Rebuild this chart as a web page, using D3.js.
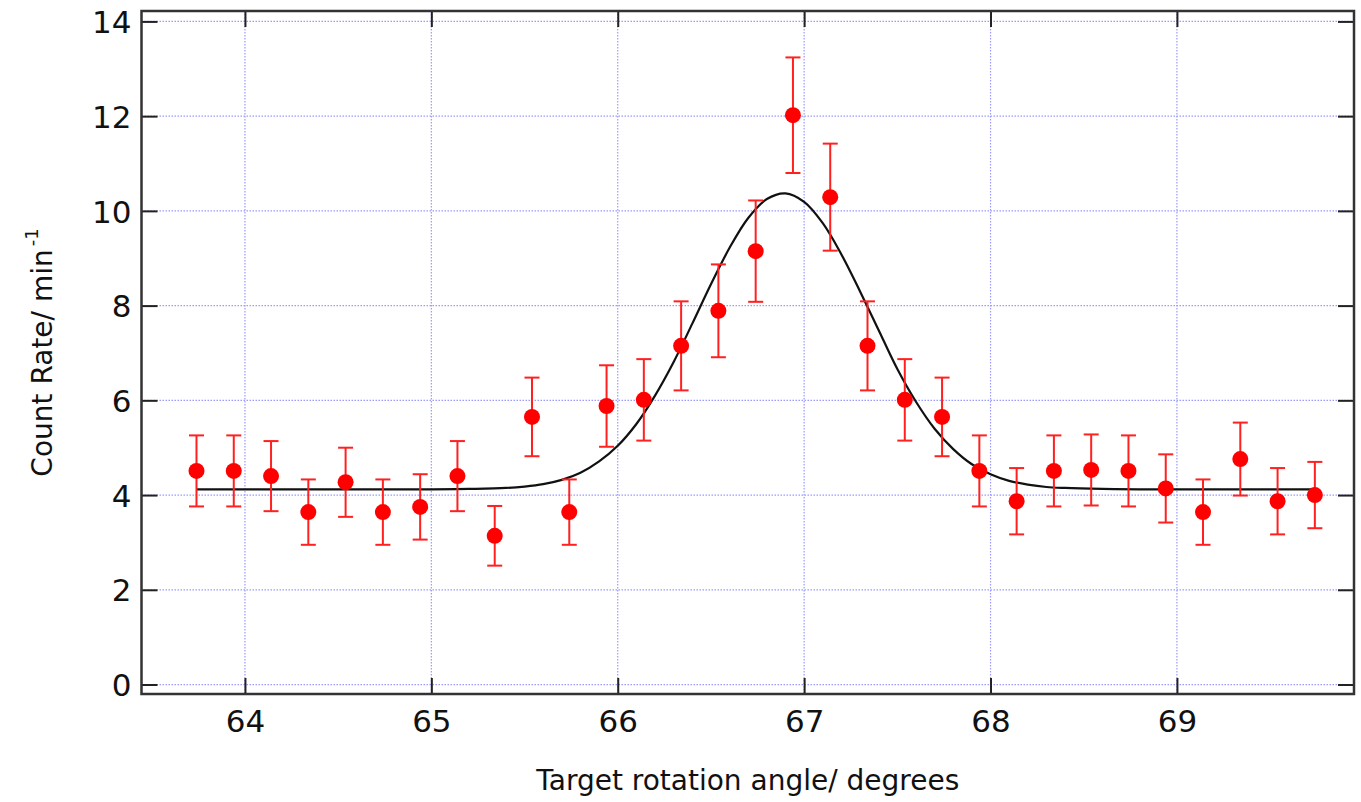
<!DOCTYPE html>
<html>
<head>
<meta charset="utf-8">
<script src="https://cdn.jsdelivr.net/npm/d3@7"></script>
<style>
  body { margin: 0; background: #fff; }
  text { font-family: "DejaVu Sans", Verdana, sans-serif; fill: #111; }
</style>
</head>
<body>
<script>
// measured points (angle in degrees, count rate per minute, error)
var angles = [63.74, 63.94, 64.14, 64.34, 64.54, 64.74, 64.94, 65.14, 65.34, 65.54,
              65.74, 65.94, 66.14, 66.34, 66.54, 66.74, 66.94, 67.14, 67.34, 67.54,
              67.74, 67.94, 68.14, 68.34, 68.54, 68.74, 68.94, 69.14, 69.34, 69.54, 69.74];
var rates = [4.51, 4.51, 4.40, 3.64, 4.27, 3.64, 3.75, 4.40, 3.14, 5.65,
             3.64, 5.88, 6.01, 7.15, 7.89, 9.15, 12.02, 10.29, 7.15, 6.01,
             5.65, 4.51, 3.87, 4.51, 4.53, 4.51, 4.14, 3.64, 4.76, 3.87, 4.00];
var errors = [0.75, 0.75, 0.74, 0.69, 0.73, 0.69, 0.69, 0.74, 0.63, 0.83,
              0.69, 0.86, 0.86, 0.94, 0.98, 1.07, 1.22, 1.13, 0.94, 0.86,
              0.83, 0.75, 0.70, 0.75, 0.75, 0.75, 0.72, 0.69, 0.77, 0.70, 0.70];

// fitted curve
var fitX = [63.74, 64.5, 65.0, 65.2, 65.4, 65.5, 65.6, 65.7, 65.8, 65.9, 66.0,
            66.1, 66.2, 66.3, 66.4, 66.5, 66.6, 66.7, 66.8, 66.9, 67.0,
            67.1, 67.2, 67.3, 67.4, 67.5, 67.6, 67.7, 67.8, 67.9, 68.0,
            68.1, 68.2, 68.3, 68.4, 68.6, 68.8, 69.2, 69.74];
var fitY = [4.12, 4.12, 4.12, 4.13, 4.15, 4.18, 4.23, 4.32, 4.47, 4.71, 5.04,
            5.50, 6.10, 6.81, 7.62, 8.45, 9.22, 9.85, 10.25, 10.37, 10.19,
            9.74, 9.08, 8.30, 7.48, 6.66, 5.97, 5.40, 4.97, 4.65, 4.44,
            4.30, 4.22, 4.17, 4.15, 4.13, 4.12, 4.12, 4.12];

var xTicks = [64, 65, 66, 67, 68, 69];
var yTicks = [0, 2, 4, 6, 8, 10, 12, 14];

var W = 1361, H = 802;
var pLeft = 141.5, pRight = 1354, pTop = 11, pBottom = 694;

var svg = d3.select("body").append("svg")
    .attr("width", W)
    .attr("height", H);

var x = d3.scaleLinear().domain([63.445, 69.95]).range([pLeft, pRight]);
var y = d3.scaleLinear().domain([-0.2, 14.22]).range([pBottom, pTop]);

// grid
var grid = svg.append("g")
    .attr("stroke", "#9a9aff")
    .attr("stroke-width", 1.2)
    .attr("stroke-dasharray", "1.5,1.5");
grid.selectAll(".gx").data(xTicks).enter().append("line")
    .attr("x1", function(d) { return x(d); })
    .attr("x2", function(d) { return x(d); })
    .attr("y1", pTop).attr("y2", pBottom);
grid.selectAll(".gy").data(yTicks).enter().append("line")
    .attr("y1", function(d) { return y(d); })
    .attr("y2", function(d) { return y(d); })
    .attr("x1", pLeft).attr("x2", pRight);

// axes with inward ticks on all sides
var tickLen = 16;
var fmt = d3.format("d");
var xAxis = d3.axisBottom(x).tickValues(xTicks).tickFormat(fmt).tickSizeInner(-tickLen).tickSizeOuter(0).tickPadding(15);
var yAxis = d3.axisLeft(y).tickValues(yTicks).tickFormat(fmt).tickSizeInner(-tickLen).tickSizeOuter(0).tickPadding(10);
var xAxisTop = d3.axisTop(x).tickValues(xTicks).tickSizeInner(-tickLen).tickSizeOuter(0).tickFormat("");
var yAxisRight = d3.axisRight(y).tickValues(yTicks).tickSizeInner(-tickLen).tickSizeOuter(0).tickFormat("");

function styleAxis(g) {
  g.select(".domain").remove();
  g.selectAll(".tick line").attr("stroke", "#222").attr("stroke-width", 2);
  g.selectAll(".tick text")
    .attr("font-size", 31)
    .attr("font-family", "DejaVu Sans, Verdana, sans-serif")
    .attr("fill", "#111");
}

svg.append("g").attr("class", "x-axis").attr("transform", "translate(0," + pBottom + ")").call(xAxis).call(styleAxis);
svg.append("g").attr("class", "y-axis").attr("transform", "translate(" + pLeft + ",0)").call(yAxis).call(styleAxis);
svg.append("g").attr("transform", "translate(0," + pTop + ")").call(xAxisTop).call(styleAxis);
svg.append("g").attr("transform", "translate(" + pRight + ",0)").call(yAxisRight).call(styleAxis);

svg.select(".x-axis").selectAll(".tick text").attr("dy", "0.73em");
svg.select(".y-axis").selectAll(".tick text").attr("dy", "0.36em");

// frame
svg.append("rect")
    .attr("x", pLeft).attr("y", pTop)
    .attr("width", pRight - pLeft).attr("height", pBottom - pTop)
    .attr("fill", "none")
    .attr("stroke", "#333")
    .attr("stroke-width", 2.5);

// fit curve
var line = d3.line()
    .x(function(d, i) { return x(fitX[i]); })
    .y(function(d) { return y(d); })
    .curve(d3.curveCatmullRom);

svg.append("path")
    .datum(fitY)
    .attr("d", line)
    .attr("fill", "none")
    .attr("stroke", "#111")
    .attr("stroke-width", 2.2);

// error bars
var pts = angles.map(function(a, i) { return {x: a, y: rates[i], e: errors[i]}; });
var eb = svg.append("g").attr("stroke", "#ff2020").attr("stroke-width", 2);
eb.selectAll(".v").data(pts).enter().append("line")
    .attr("x1", function(d) { return x(d.x); })
    .attr("x2", function(d) { return x(d.x); })
    .attr("y1", function(d) { return y(d.y + d.e); })
    .attr("y2", function(d) { return y(d.y - d.e); });
eb.selectAll(".ct").data(pts).enter().append("line")
    .attr("x1", function(d) { return x(d.x) - 7.5; })
    .attr("x2", function(d) { return x(d.x) + 7.5; })
    .attr("y1", function(d) { return y(d.y + d.e); })
    .attr("y2", function(d) { return y(d.y + d.e); });
eb.selectAll(".cb").data(pts).enter().append("line")
    .attr("x1", function(d) { return x(d.x) - 7.5; })
    .attr("x2", function(d) { return x(d.x) + 7.5; })
    .attr("y1", function(d) { return y(d.y - d.e); })
    .attr("y2", function(d) { return y(d.y - d.e); });

svg.selectAll(".pt").data(pts).enter().append("circle")
    .attr("cx", function(d) { return x(d.x); })
    .attr("cy", function(d) { return y(d.y); })
    .attr("r", 8)
    .attr("fill", "#ff0000");

// axis titles
svg.append("text")
    .attr("x", (pLeft + pRight) / 2)
    .attr("y", 790)
    .attr("text-anchor", "middle")
    .attr("font-size", 28)
    .text("Target rotation angle/ degrees");

var yt = svg.append("text")
    .attr("transform", "translate(52," + ((pTop + pBottom) / 2) + ") rotate(-90)")
    .attr("text-anchor", "middle")
    .attr("font-size", 28);
yt.append("tspan").text("Count Rate/ min");
yt.append("tspan").attr("font-size", 18).attr("dx", 3).attr("dy", -14).text("-1");
</script>
</body>
</html>
